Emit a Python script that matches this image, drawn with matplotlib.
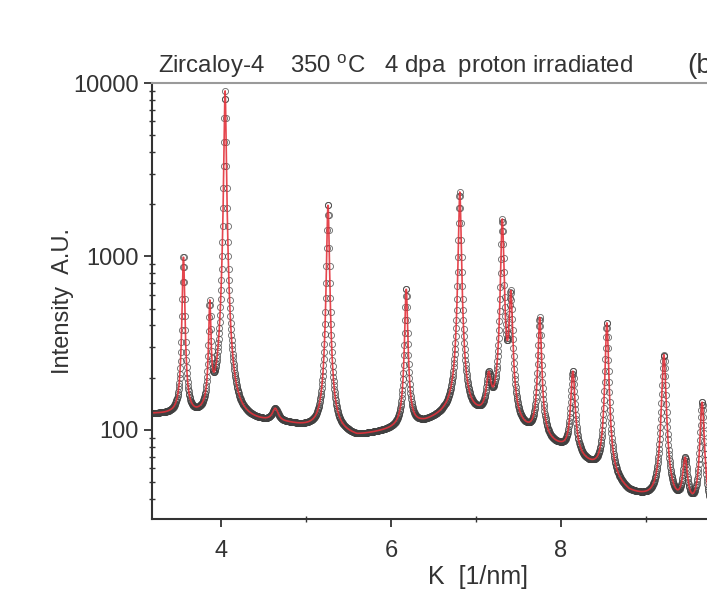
import matplotlib
matplotlib.use("Agg")

import matplotlib.pyplot as plt
import numpy as np
from matplotlib.ticker import FixedLocator, LogLocator, NullFormatter

plt.rcParams['font.family'] = ['Liberation Sans', 'DejaVu Sans']

# peaks: position K [1/nm], top intensity, half width
peak_k = [3.56, 3.87, 4.05, 4.64, 5.26, 6.18, 6.81, 7.15, 7.31, 7.41,
          7.75, 8.14, 8.54, 9.21, 9.46, 9.66]
peak_top = [1000, 520, 9000, 128, 2000, 650, 2350, 190, 1620, 585,
            440, 215, 415, 270, 65, 143]
peak_hw = [0.014, 0.013, 0.012, 0.04, 0.015, 0.017, 0.016, 0.03, 0.018, 0.02,
           0.02, 0.025, 0.02, 0.025, 0.03, 0.025]

# background level between the peaks
bg_k = [3.2, 3.4, 3.7, 4.3, 4.8, 5.1, 5.6, 6.0, 6.4, 6.7, 7.0, 7.6,
        8.0, 8.4, 8.8, 9.3, 9.6, 10.0]
bg_i = [122, 120, 114, 110, 106, 100, 90, 98, 108, 122, 115, 92,
        76, 58, 42, 36, 32, 31]

title_text = "Zircaloy-4    350 $^\\mathregular{o}$C   4 dpa  proton irradiated"

# measured points on the detector grid
k = np.arange(3.19, 9.80, 0.004)
bg = 10 ** np.interp(k, bg_k, np.log10(bg_i))
inten = bg.copy()
for pk, top, hw in zip(peak_k, peak_top, peak_hw):
    amp = top - 10 ** np.interp(pk, bg_k, np.log10(bg_i))
    inten += amp / (1 + ((k - pk) / hw) ** 2)

fig = plt.figure(figsize=(7.07, 5.95), dpi=100)
ax = fig.add_axes([0.215, 0.128, 0.819, 0.7325])

ax.plot(k, inten, linestyle='none', marker='o', markersize=4.4,
        markerfacecolor='none', markeredgecolor='#404040',
        markeredgewidth=0.65, alpha=0.75)
ax.plot(k, inten, color='#e3323b', linewidth=1.2, alpha=0.9)

ax.set_yscale('log')
ax.set_xlim(3.19, 10.0)
ax.set_ylim(30.7, 10000)

ax.xaxis.set_major_locator(FixedLocator([4, 6, 8]))
ax.xaxis.set_minor_locator(FixedLocator([5, 7, 9]))
ax.yaxis.set_major_locator(FixedLocator([100, 1000, 10000]))
ax.yaxis.set_minor_locator(LogLocator(base=10, subs=np.arange(2, 10)))
ax.yaxis.set_minor_formatter(NullFormatter())
ax.set_yticklabels(['100', '1000', '10000'])

ax.tick_params(which='major', direction='out', length=6, width=1.3,
               labelsize=17, color='#333333', labelcolor='#333333')
ax.tick_params(axis='x', which='major', pad=9)
ax.tick_params(which='minor', direction='inout', length=5, width=1.0,
               color='#333333')

for side in ['left', 'bottom']:
    ax.spines[side].set_color('#333333')
    ax.spines[side].set_linewidth(1.5)
ax.spines['top'].set_color('#9a9a9a')
ax.spines['top'].set_linewidth(1.5)
ax.spines['right'].set_visible(False)

ax.set_ylabel('Intensity  A.U.', fontsize=17, color='#333333')
ax.yaxis.set_label_coords(-0.135, 0.5)
ax.set_xlabel('K  [1/nm]', fontsize=18, color='#333333')
ax.xaxis.set_label_coords(0.563, -0.105)

fig.text(0.2235, 0.889, title_text, fontsize=17.3, color='#333333',
         ha='left', va='center')
fig.text(0.972, 0.889, '(b)', fontsize=20, color='#333333',
         ha='left', va='center')

fig.savefig('out.png', dpi=100)
plt.close(fig)
